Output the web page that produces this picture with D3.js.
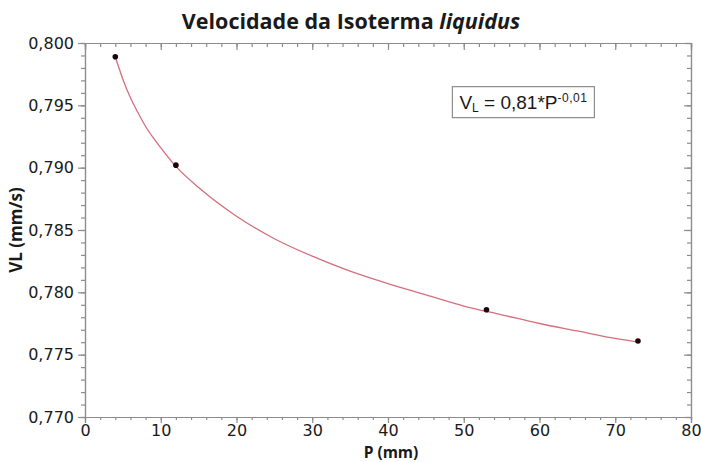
<!DOCTYPE html>
<html>
  <head>
    <meta charset="utf-8">
    <title>Velocidade da Isoterma liquidus</title>
    <style>
      body { margin: 0; background: #fff; }
      text { fill: #1a1a1a; }
    </style>
  </head>
  <body>
    <script src="https://d3js.org/d3.v7.min.js"></script>
    <svg id="chart" width="701" height="462"></svg>
    <script>

      // measured points
      var posP = [4, 12, 53, 73];
      var velL = [0.7989, 0.7902, 0.7786, 0.7761];

      // fitted curve
      var curveP = [4, 5, 6, 7, 8, 9, 10, 12, 15, 20, 25, 30, 35, 40, 45, 50, 55, 60, 65, 70, 73];
      var curveV = [0.7989, 0.7971, 0.7956, 0.7944, 0.7933, 0.7924, 0.7916, 0.7901, 0.7884, 0.7861, 0.7843,
                    0.7829, 0.7817, 0.7807, 0.7798, 0.7789, 0.7782, 0.7775, 0.7769, 0.7763, 0.7760];

      var xTicks = [0, 10, 20, 30, 40, 50, 60, 70, 80];
      var yTicks = [0.770, 0.775, 0.780, 0.785, 0.790, 0.795, 0.800];

      var svg = d3.select("#chart"),
        margin = {top: 43, right: 10, bottom: 45, left: 85},
        width = +svg.attr("width") - margin.left - margin.right,
        height = +svg.attr("height") - margin.top - margin.bottom;

      var ptBR = d3.formatLocale({decimal: ",", thousands: ".", grouping: [3], currency: ["R$", ""]});
      var fmtY = ptBR.format(".3f");

      var x = d3.scaleLinear().domain([0, 80]).range([0, width]);
      var y = d3.scaleLinear().domain([0.770, 0.800]).range([height, 0]);

      var g = svg.append("g").attr("transform", "translate(" + margin.left + "," + margin.top + ")");

      var axisColor = "#8c8c8c";
      var minorX = d3.range(0, 80.01, 2);
      var minorY = d3.range(0, 31).map(function (i) { return 0.770 + i * 0.001; });

      // bottom axis (minor and major on separate groups)
      g.append("g").attr("transform", "translate(0," + height + ")")
        .call(d3.axisBottom(x).tickValues(minorX).tickSize(3).tickFormat(""));
      g.append("g").attr("transform", "translate(0," + height + ")")
        .call(d3.axisBottom(x).tickValues(xTicks).tickSize(6).tickPadding(2).tickFormat(d3.format("d")));

      // left axis
      g.append("g").call(d3.axisLeft(y).tickValues(minorY).tickSize(4).tickFormat(""));
      g.append("g").call(d3.axisLeft(y).tickValues(yTicks).tickSize(7).tickPadding(4).tickFormat(fmtY));

      // top and right frame, ticks inward
      g.append("g").call(d3.axisTop(x).tickValues(minorX).tickSize(-4).tickFormat(""));
      g.append("g").call(d3.axisTop(x).tickValues(xTicks).tickSize(-7).tickFormat(""));
      g.append("g").attr("transform", "translate(" + width + ",0)")
        .call(d3.axisRight(y).tickValues(minorY).tickSize(-4).tickFormat(""));
      g.append("g").attr("transform", "translate(" + width + ",0)")
        .call(d3.axisRight(y).tickValues(yTicks).tickSize(-7).tickFormat(""));

      g.selectAll(".domain, .tick line").attr("stroke", axisColor).attr("stroke-width", 1.2);
      g.selectAll(".tick text")
        .attr("fill", "#1a1a1a")
        .style("font-family", "'DejaVu Sans', sans-serif")
        .style("font-size", "16px");

      // fitted curve
      var line = d3.line()
        .x(function (d, i) { return x(curveP[i]); })
        .y(function (d) { return y(d); })
        .curve(d3.curveMonotoneX);
      g.append("path")
        .datum(curveV)
        .attr("d", line)
        .attr("fill", "none")
        .attr("stroke", "#d46f7c")
        .attr("stroke-width", 1.3);

      // points
      g.selectAll(".pt")
        .data(velL)
        .enter()
        .append("circle")
          .attr("cx", function (d, i) { return x(posP[i]); })
          .attr("cy", function (d) { return y(d); })
          .attr("r", 2.8)
          .attr("fill", "#1a0508");

      // equation box
      var eq = g.append("g").attr("transform", "translate(" + x(48.5) + "," + y(0.7965) + ")");
      eq.append("rect")
        .attr("x", 0).attr("y", 0)
        .attr("width", 142).attr("height", 31)
        .attr("fill", "#fff")
        .attr("stroke", axisColor)
        .attr("stroke-width", 1.2);
      var eqText = eq.append("text")
        .attr("x", 7).attr("y", 22)
        .style("font-family", "'Liberation Sans', Arial, sans-serif")
        .style("font-size", "19px");
      eqText.append("tspan").text("V");
      eqText.append("tspan").attr("dy", 3).style("font-size", "12px").text("L");
      eqText.append("tspan").attr("dy", -3).text(" = 0,81*P");
      eqText.append("tspan").attr("dy", -7).style("font-size", "12px").style("letter-spacing", "0.5px").text("-0,01");

      // titles
      var title = svg.append("text")
        .attr("x", 351)
        .attr("y", 29)
        .attr("text-anchor", "middle")
        .style("font-family", "'Open Sans', sans-serif")
        .style("font-weight", "bold")
        .style("font-size", "21.5px");
      title.append("tspan").text("Velocidade da Isoterma ");
      title.append("tspan").style("font-style", "italic").text("liquidus");

      svg.append("text")
        .attr("x", 391)
        .attr("y", 457.5)
        .attr("text-anchor", "middle")
        .style("font-family", "'Open Sans', sans-serif")
        .style("font-weight", "bold")
        .style("font-size", "15.5px")
        .text("P (mm)");

      svg.append("text")
        .attr("transform", "translate(22," + (margin.top + height / 2) + ") rotate(-90)")
        .attr("text-anchor", "middle")
        .style("font-family", "'Open Sans', sans-serif")
        .style("font-weight", "bold")
        .style("font-size", "17px")
        .text("VL (mm/s)");
    </script>
  </body>
</html>
